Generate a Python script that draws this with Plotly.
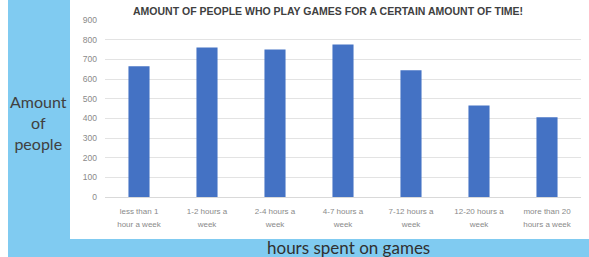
import plotly.graph_objects as go

categories = ["less than 1 hour a week", "1-2 hours a week", "2-4 hours a week",
              "4-7 hours a week", "7-12 hours a week", "12-20 hours a week",
              "more than 20 hours a week"]
label_line1 = ["less than 1", "1-2 hours a", "2-4 hours a", "4-7 hours a",
               "7-12 hours a", "12-20 hours a", "more than 20"]
label_line2 = ["hour a week", "week", "week", "week", "week", "week", "hours a week"]
people = [665, 760, 750, 775, 645, 465, 405]
y_ticks = [0, 100, 200, 300, 400, 500, 600, 700, 800, 900]

W, H = 589, 257
ml, mr, mt, mb = 105, 8, 20, 60

fig = go.Figure(go.Bar(x=categories, y=people, marker_color="#4472C4",
                       marker_line_width=0))

def px(x):
    return (x - ml) / (W - ml - mr)

def py(y):
    return (H - mb - y) / (H - mt - mb)

blue = "#80CBF1"
tickfont = dict(size=8, color="#8A8A8A", family="Liberation Sans, Arial")
fig.update_layout(
    width=W, height=H,
    margin=dict(l=ml, r=mr, t=mt, b=mb, pad=0),
    paper_bgcolor=blue, plot_bgcolor="white",
    bargap=0.69,
    showlegend=False,
    font=dict(family="Liberation Sans, Arial", color="#595959", size=8),
    shapes=[
        dict(type="rect", xref="paper", yref="paper", x0=px(0), x1=px(8), y0=py(0), y1=py(257),
             fillcolor="white", line_width=0, layer="below"),
        dict(type="rect", xref="paper", yref="paper", x0=px(70), x1=px(589), y0=py(0), y1=py(239),
             fillcolor="white", line_width=0, layer="below"),
    ],
    annotations=[
        dict(text="<b>AMOUNT OF PEOPLE WHO PLAY GAMES FOR A CERTAIN AMOUNT OF TIME!</b>",
             xref="paper", yref="paper", x=px(328), y=py(11), showarrow=False,
             font=dict(size=10.5, color="#404040", family="Liberation Sans, Arial"),
             xanchor="center", yanchor="middle"),
        dict(text="Amount<br>of<br>people", xref="paper", yref="paper", x=px(38), y=py(122),
             showarrow=False, align="center", xanchor="center", yanchor="middle",
             font=dict(size=16, color="#404040", family="Lato")),
        dict(text="hours spent on games", xref="paper", yref="paper", x=px(348), y=py(247),
             showarrow=False, xanchor="center", yanchor="middle",
             font=dict(size=17, color="#303030", family="Lato")),
    ],
    xaxis=dict(type="category", range=[-0.5, 6.5], showline=True, linecolor="#D9D9D9",
               linewidth=1, ticks="", tickmode="array", tickvals=categories,
               ticktext=label_line1, tickfont=tickfont, tickangle=0, ticklabelstandoff=6),
    xaxis2=dict(range=[-0.5, 6.5], overlaying="x", side="bottom", anchor="y",
                showline=False, showgrid=False, zeroline=False, ticks="", tickmode="array",
                tickvals=list(range(len(categories))), ticktext=label_line2,
                tickfont=tickfont, tickangle=0, ticklabelstandoff=21),
    yaxis=dict(range=[0, 900], tickvals=y_ticks, showgrid=True, gridcolor="#E3E3E3",
               gridwidth=1, zeroline=False, showline=False, ticks="",
               tickfont=dict(size=8.5, color="#8A8A8A"), ticklabelstandoff=7),
)
# invisible helper trace so the second (label) axis is drawn
fig.add_trace(go.Scatter(x=[0], y=[0], xaxis="x2", yaxis="y", mode="markers",
                         marker=dict(opacity=0), hoverinfo="skip", showlegend=False))

fig.write_html("out.html", config={"displayModeBar": False},
               post_script="document.body.style.margin='0';document.body.style.padding='0';")
